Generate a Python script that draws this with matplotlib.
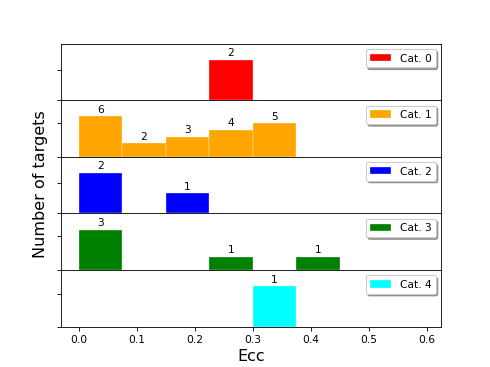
import numpy as np
import matplotlib
matplotlib.use('Agg')
import matplotlib.pyplot as plt
from matplotlib.ticker import MaxNLocator

# histogram bins in eccentricity
bin_edges = [0.0, 0.075, 0.15, 0.225, 0.3, 0.375, 0.45, 0.525, 0.6]

cat0 = [0, 0, 0, 2, 0, 0, 0, 0]
cat1 = [6, 2, 3, 4, 5, 0, 0, 0]
cat2 = [2, 0, 1, 0, 0, 0, 0, 0]
cat3 = [3, 0, 0, 1, 0, 1, 0, 0]
cat4 = [0, 0, 0, 0, 1, 0, 0, 0]

labels = ['Cat. 0', 'Cat. 1', 'Cat. 2', 'Cat. 3', 'Cat. 4']
colors = ['red', 'orange', 'blue', 'green', 'cyan']
counts = [cat0, cat1, cat2, cat3, cat4]

edges = np.array(bin_edges)
width = np.diff(edges)

fig, axes = plt.subplots(5, 1, sharex=True, figsize=(6.4, 4.8))
fig.subplots_adjust(hspace=0)

for ax, c, col, lab in zip(axes, counts, colors, labels):
	c = np.array(c)
	ax.bar(edges[:-1], c, width=width, align='edge', color=col,
		edgecolor='white', linewidth=0.3, label=lab)
	for x, w, n in zip(edges[:-1], width, c):
		if n > 0:
			ax.text(x + w / 2, n + c.max() * 0.05, str(n), ha='center',
				va='bottom', fontsize=10)
	ax.set_ylim(0, c.max() * 1.4)
	ax.yaxis.set_major_locator(MaxNLocator(nbins=2))
	ax.set_yticklabels([])
	ax.legend(loc='upper right', shadow=True)

axes[-1].set_xlim(-0.03, 0.625)
axes[-1].set_xticks([0.0, 0.1, 0.2, 0.3, 0.4, 0.5, 0.6])
axes[-1].set_xlabel('Ecc', fontsize=15)
fig.text(0.082, 0.5, 'Number of targets', rotation=90, va='center',
	ha='center', fontsize=15)

plt.savefig('out.png', dpi=490 / 6.4)
